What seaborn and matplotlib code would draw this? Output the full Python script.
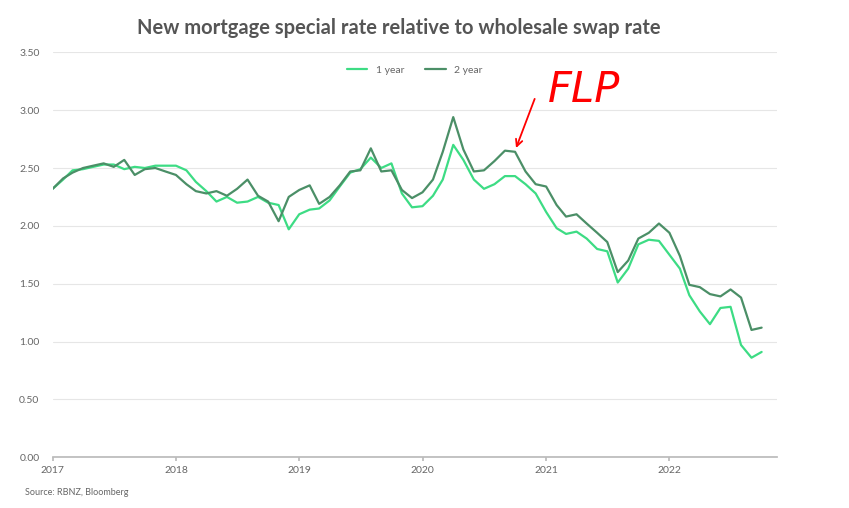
import matplotlib
matplotlib.use("Agg")
import matplotlib.pyplot as plt
import seaborn as sns
import pandas as pd

one_year = [2.32,2.40,2.48,2.49,2.51,2.53,2.53,2.49,2.51,2.50,2.52,2.52,
            2.52,2.48,2.38,2.30,2.21,2.25,2.20,2.21,2.25,2.20,2.18,1.97,
            2.10,2.14,2.15,2.22,2.34,2.46,2.49,2.59,2.50,2.54,2.28,2.16,
            2.17,2.26,2.40,2.70,2.57,2.40,2.32,2.36,2.43,2.43,2.36,2.28,
            2.12,1.98,1.93,1.95,1.89,1.80,1.78,1.51,1.63,1.84,1.88,1.87,
            1.75,1.63,1.40,1.26,1.15,1.29,1.30,0.97,0.86,0.91]
two_year = [2.32,2.41,2.46,2.50,2.52,2.54,2.51,2.57,2.44,2.49,2.50,2.47,
            2.44,2.36,2.30,2.28,2.30,2.26,2.32,2.40,2.26,2.21,2.04,2.25,
            2.31,2.35,2.19,2.25,2.35,2.47,2.48,2.67,2.47,2.48,2.31,2.24,
            2.29,2.40,2.64,2.94,2.66,2.47,2.48,2.56,2.65,2.64,2.47,2.36,
            2.34,2.18,2.08,2.10,2.02,1.94,1.86,1.60,1.70,1.89,1.94,2.02,
            1.94,1.74,1.49,1.47,1.41,1.39,1.45,1.38,1.10,1.12]
dates = pd.date_range("2017-01-01", periods=len(one_year), freq="MS")
df = pd.DataFrame({"date": list(dates)*2, "value": one_year+two_year,
                   "series": ["1 year"]*len(one_year)+["2 year"]*len(two_year)})

sns.set_theme(style="white")
plt.rcParams['font.family'] = ['Lato', 'DejaVu Sans']
fig, ax = plt.subplots(figsize=(8.49, 5.08), dpi=100)
fig.subplots_adjust(left=0.062, right=0.915, top=0.897, bottom=0.1)
sns.lineplot(data=df, x="date", y="value", hue="series",
             palette={"1 year": "#3ddc84", "2 year": "#4b8f67"}, lw=1.6, ax=ax)
ax.set_ylim(0, 3.5)
ax.set_yticks([i*0.5 for i in range(8)])
ax.set_yticklabels([f"{i*0.5:.2f}" for i in range(8)], fontsize=7.5, color="#666666")
ax.set_xlim(pd.Timestamp("2017-01-01"), pd.Timestamp("2022-11-15"))
ax.set_xticks([pd.Timestamp(f"{y}-01-01") for y in range(2017, 2023)])
ax.set_xticklabels([str(y) for y in range(2017, 2023)], fontsize=7.5, color="#666666")
ax.tick_params(axis="x", length=3, color="#bbbbbb", bottom=True)
ax.set_xlabel(""); ax.set_ylabel("")
ax.grid(axis="y", color="#e6e6e6", lw=0.8)
for s in ["top", "right", "left"]:
    ax.spines[s].set_visible(False)
ax.spines["bottom"].set_color("#bbbbbb")
ax.legend(loc="upper center", ncol=2, frameon=False, fontsize=7.5,
          bbox_to_anchor=(0.5, 0.99), handlelength=2, labelcolor="#666666")
fig.suptitle("New mortgage special rate relative to wholesale swap rate",
             x=0.47, y=0.965, fontsize=14.5, fontweight="bold", color="#555555")
fig.text(0.03, 0.025, "Source: RBNZ, Bloomberg", fontsize=6.5, color="#666666")
fig.text(0.645, 0.80, "FLP", fontsize=30, color="red", style="italic", family="DejaVu Sans")
ax.annotate("", xy=(pd.Timestamp("2020-10-01"), 2.65), xytext=(pd.Timestamp("2020-12-01"), 3.12),
            arrowprops=dict(arrowstyle="->", color="red", lw=1.3))
fig.savefig("out.png")
